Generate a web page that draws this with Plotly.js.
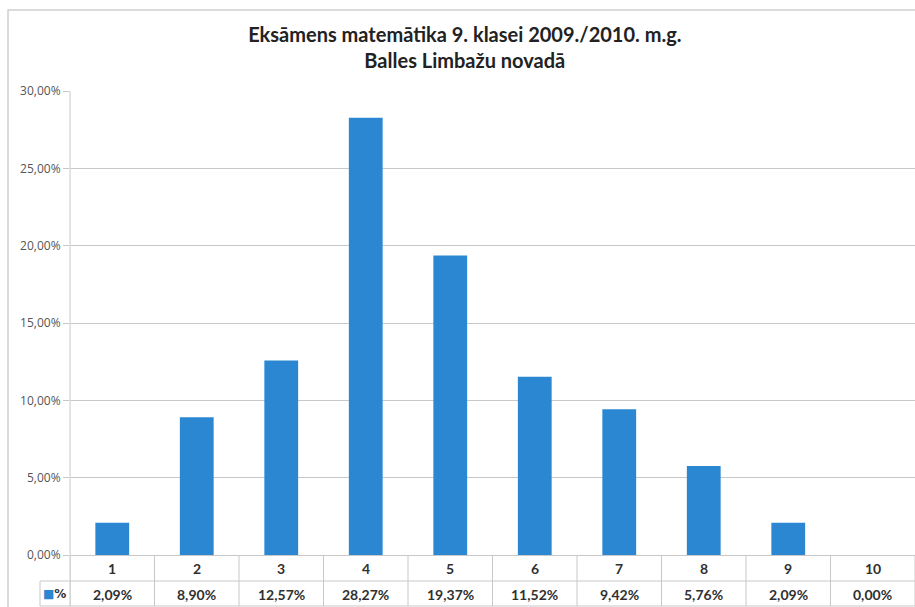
<!DOCTYPE html>
<html>
<head>
<meta charset="utf-8">
<script src="https://cdn.plot.ly/plotly-3.0.1.min.js"></script>
<style>html,body{margin:0;padding:0;background:#fff;}#chart{width:915px;height:607px;}</style>
</head>
<body>
<div id="chart"></div>
<script>
const categories = ['1','2','3','4','5','6','7','8','9','10'];
const seriesName = '%';
const values = [0.0209, 0.0890, 0.1257, 0.2827, 0.1937, 0.1152, 0.0942, 0.0576, 0.0209, 0.0000];
const yTicks = [0, 0.05, 0.10, 0.15, 0.20, 0.25, 0.30];
const titleLines = ['Eksāmens matemātika 9. klasei 2009./2010. m.g.', 'Balles Limbažu novadā'];

const W = 915, H = 607;
const L = 70, R = 0, T = 91, B = 52;
const pw = W - L - R, ph = H - T - B;
const px = p => (p - L) / pw;           // pixel x -> paper x
const py = p => (H - B - p) / ph;       // pixel y -> paper y
const blue = '#2b87d1';
const grid = '#c8c8c8';
const tableFont = {family:'Lato, Open Sans, sans-serif', size:14, color:'#303030'};

const xs = categories.map((c, i) => i + 1);

function fmt(v) { return (v * 100).toFixed(2).replace('.', ',') + '%'; }

const shapes = [];
const annotations = [];
// outer chart frame
shapes.push({type:'rect', xref:'paper', yref:'paper', x0:px(8), x1:px(930), y0:py(10), y1:py(640), line:{color:'#d0d0d0', width:1.5}, layer:'below'});
// table horizontal lines
const rowY1 = 581, rowY2 = 606;
shapes.push({type:'line', xref:'paper', yref:'paper', x0:0, x1:1, y0:py(rowY1), y1:py(rowY1), line:{color:grid, width:1}});
shapes.push({type:'line', xref:'paper', yref:'paper', x0:px(40), x1:1, y0:py(rowY2), y1:py(rowY2), line:{color:grid, width:1}});
shapes.push({type:'line', xref:'paper', yref:'paper', x0:px(40), x1:0, y0:py(rowY1), y1:py(rowY1), line:{color:grid, width:1}});
shapes.push({type:'line', xref:'paper', yref:'paper', x0:px(40), x1:px(40), y0:py(rowY1), y1:py(rowY2), line:{color:grid, width:1}});
// vertical separators
for (let i = 0; i <= categories.length; i++) {
  shapes.push({type:'line', xref:'x', yref:'paper', x0:i + 0.5, x1:i + 0.5, y0:0, y1:py(rowY2), line:{color:grid, width:1}});
}
// y-axis line extension
shapes.push({type:'line', xref:'paper', yref:'paper', x0:0, x1:0, y0:1, y1:py(rowY2), line:{color:grid, width:1}});

categories.forEach((c, i) => {
  annotations.push({xref:'x', yref:'paper', x:xs[i], y:py(568), text:'<b>' + c + '</b>', showarrow:false, font:tableFont, xanchor:'center', yanchor:'middle'});
  annotations.push({xref:'x', yref:'paper', x:xs[i], y:py(594), text:'<b>' + fmt(values[i]) + '</b>', showarrow:false, font:tableFont, xanchor:'center', yanchor:'middle'});
});
annotations.push({xref:'paper', yref:'paper', x:px(54), y:py(594), text:'<span style="color:' + blue + '">■</span><b>' + seriesName + '</b>', showarrow:false, font:{family:'DejaVu Sans, sans-serif', size:12, color:'#303030'}, xanchor:'center', yanchor:'middle'});

const data = [{
  type:'bar', x:xs, y:values, name:seriesName,
  marker:{color:blue}, width:0.4, hoverinfo:'skip'
}];

const layout = {
  width:W, height:H,
  margin:{l:L, r:R, t:T, b:B, pad:0},
  paper_bgcolor:'#ffffff', plot_bgcolor:'#ffffff',
  separators:',.',
  showlegend:false,
  title:{text:'<b>' + titleLines.join('<br>') + '</b>', x:0.508, xref:'container', y:0.93, yanchor:'top', font:{family:'Lato, Open Sans, sans-serif', size:20, color:'#222222'}},
  xaxis:{range:[0.5, 10.5], showticklabels:false, showgrid:false, zeroline:false, showline:false, ticks:'', fixedrange:true},
  yaxis:{range:[0, 0.30], tickvals:yTicks, tickformat:'.2%', showgrid:true, gridcolor:grid, gridwidth:1, zeroline:true, zerolinecolor:grid, zerolinewidth:1,
         showline:false, ticks:'outside', ticklen:6, tickcolor:grid, tickfont:{family:'Open Sans, sans-serif', size:12, color:'#555555'}, fixedrange:true},
  shapes:shapes,
  annotations:annotations
};

Plotly.newPlot('chart', data, layout, {displayModeBar:false, staticPlot:true});
</script>
</body>
</html>
